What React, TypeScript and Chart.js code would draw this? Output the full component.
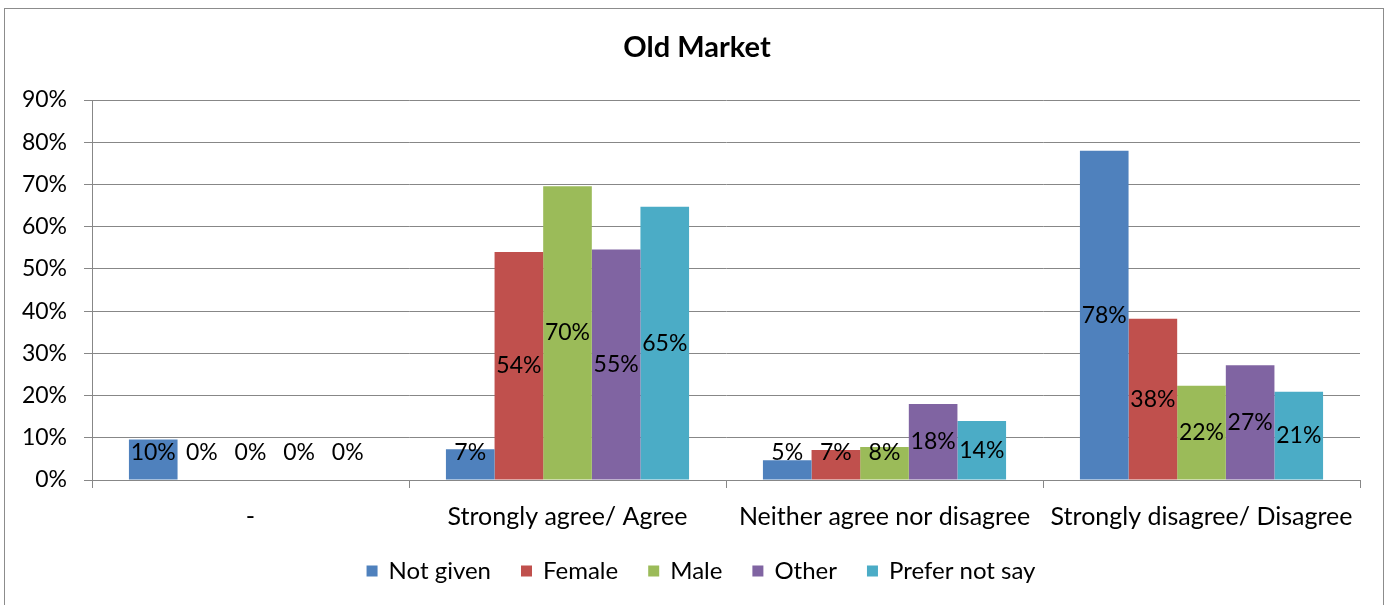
import React, { useEffect, useRef } from 'react';
import { Chart, registerables } from 'chart.js';

Chart.register(...registerables);

const chartTitle = 'Old Market';
const categories = ['-', 'Strongly agree/ Agree', 'Neither agree nor disagree', 'Strongly disagree/ Disagree'];
const seriesNames = ['Not given', 'Female', 'Male', 'Other', 'Prefer not say'];
const seriesColors = ['#4F81BD', '#C0504D', '#9BBB59', '#8064A2', '#4BACC6'];
const notGiven = [9.6, 7.3, 4.7, 78.0];
const female = [0, 54.0, 7.1, 38.2];
const male = [0, 69.6, 7.8, 22.3];
const other = [0, 54.6, 18.0, 27.2];
const preferNotSay = [0, 64.7, 14.0, 20.9];
const yMin = 0;
const yMax = 90;
const yStep = 10;

const FONT = 'Lato, "Open Sans", sans-serif';
const GRID = '#878787';

const framePlugin = {
  id: 'frame',
  beforeDraw(chart: any) {
    const ctx = chart.ctx;
    ctx.save();
    ctx.fillStyle = '#ffffff';
    ctx.fillRect(0, 0, chart.width, chart.height);
    ctx.strokeStyle = '#8c8c8c';
    ctx.lineWidth = 1;
    ctx.strokeRect(4.5, 8.5, 1379, 640);
    ctx.restore();
  },
};

const titlePlugin = {
  id: 'customTitle',
  afterDraw(chart: any) {
    const ctx = chart.ctx;
    ctx.save();
    ctx.fillStyle = '#000';
    ctx.font = `bold 29px ${FONT}`;
    ctx.textAlign = 'center';
    ctx.textBaseline = 'middle';
    ctx.fillText(chartTitle, 697, 48);
    ctx.restore();
  },
};

const valueLabelPlugin = {
  id: 'valueLabels',
  afterDatasetsDraw(chart: any) {
    const ctx = chart.ctx;
    ctx.save();
    ctx.fillStyle = '#000';
    ctx.font = `23px ${FONT}`;
    ctx.textAlign = 'center';
    ctx.textBaseline = 'middle';
    chart.data.datasets.forEach((ds: any, di: number) => {
      const meta = chart.getDatasetMeta(di);
      meta.data.forEach((el: any, i: number) => {
        const v = ds.data[i];
        const mid = (el.y + el.base) / 2;
        const y = Math.min(mid, el.base - 27);
        ctx.fillText(Math.round(v) + '%', el.x, y);
      });
    });
    ctx.restore();
  },
};

const legendPlugin = {
  id: 'customLegend',
  afterDraw(chart: any) {
    const ctx = chart.ctx;
    ctx.save();
    ctx.font = `24px ${FONT}`;
    const box = 11;
    const gapBoxText = 11;
    const gapItems = 30;
    const widths = seriesNames.map((n) => ctx.measureText(n).width);
    const total = widths.reduce((a, w) => a + box + gapBoxText + w, 0) + gapItems * (seriesNames.length - 1);
    let x = 701 - total / 2;
    const cy = 571;
    ctx.textBaseline = 'middle';
    ctx.textAlign = 'left';
    seriesNames.forEach((n, i) => {
      ctx.fillStyle = seriesColors[i];
      ctx.fillRect(x, cy - box / 2, box, box);
      x += box + gapBoxText;
      ctx.fillStyle = '#000';
      ctx.fillText(n, x, cy);
      x += widths[i] + gapItems;
    });
    ctx.restore();
  },
};

export default function App() {
  const ref = useRef<HTMLCanvasElement | null>(null);
  useEffect(() => {
    if (!ref.current) return;
    const values = [notGiven, female, male, other, preferNotSay];
    const chart = new Chart(ref.current, {
      type: 'bar',
      data: {
        labels: categories,
        datasets: seriesNames.map((name, i) => ({
          label: name,
          data: values[i],
          backgroundColor: seriesColors[i],
          borderWidth: 0,
          categoryPercentage: 0.767,
          barPercentage: 1.0,
        })),
      },
      options: {
        responsive: false,
        animation: false,
        devicePixelRatio: 1,
        layout: { padding: { top: 100, right: 35, left: 0, bottom: 0 } },
        plugins: {
          legend: { display: false },
          title: { display: false },
          tooltip: { enabled: false },
        },
        scales: {
          x: {
            offset: true,
            grid: {
              offset: true,
              drawOnChartArea: false,
              drawTicks: true,
              tickLength: 8,
              color: GRID,
            },
            border: { display: true, color: GRID },
            ticks: {
              color: '#000',
              font: { family: FONT, size: 25 },
              padding: 14,
              maxRotation: 0,
              autoSkip: false,
            },
            afterFit(scale: any) {
              scale.height = 125;
            },
          },
          y: {
            min: yMin,
            max: yMax,
            grid: { color: GRID, tickLength: 8, drawTicks: true },
            border: { display: true, color: GRID },
            ticks: {
              stepSize: yStep,
              color: '#000',
              font: { family: FONT, size: 23 },
              padding: 17,
              callback: (v: any) => v + '%',
            },
            afterFit(scale: any) {
              scale.width = 92;
            },
          },
        },
      },
      plugins: [framePlugin, valueLabelPlugin, titlePlugin, legendPlugin],
    } as any);
    return () => chart.destroy();
  }, []);
  return (
    <div style={{ position: 'absolute', left: 0, top: 0, width: 1395, height: 605 }}>
      <canvas ref={ref} width={1395} height={605} style={{ display: 'block', width: 1395, height: 605 }} />
    </div>
  );
}
